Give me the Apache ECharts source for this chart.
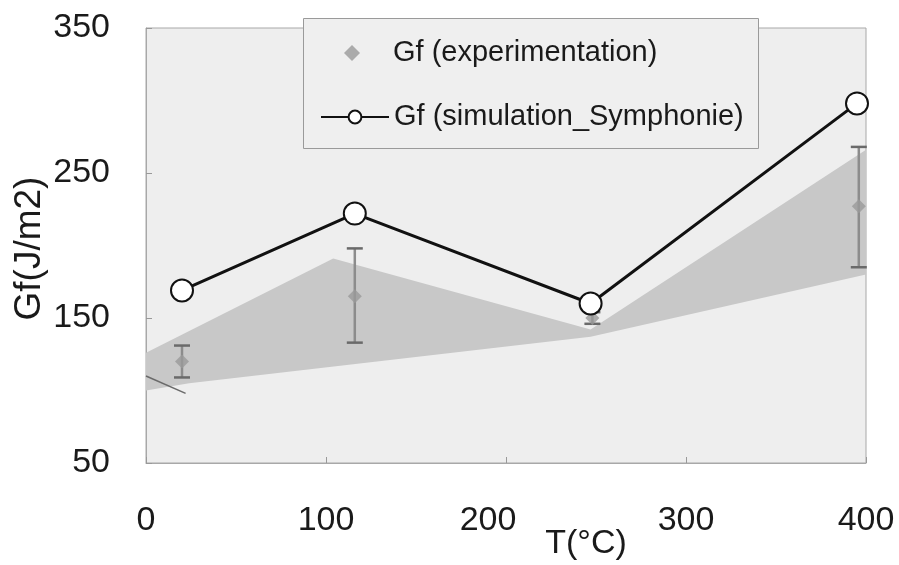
<!DOCTYPE html>
<html>
<head>
<meta charset="utf-8">
<script src="https://cdn.jsdelivr.net/npm/echarts@6/dist/echarts.min.js"></script>
<style>
html,body{margin:0;padding:0;background:#fff;}
#c{width:899px;height:565px;}
</style>
</head>
<body>
<div id="c"></div>
<script>
// ---- data ----
const xTicks = [0, 100, 200, 300, 400];
const yTicks = [50, 150, 250, 350];

const simT  = [20, 116, 247, 395];
const simGf = [169, 222, 160, 298];

const expT    = [20, 116, 248, 396];
const expGf   = [120, 165, 150, 227];
const expLow  = [109, 133, 146, 185];
const expHigh = [131, 198, 154, 268];

const bandUpperT  = [0, 104, 247, 400];
const bandUpperGf = [126, 191, 142, 266];
const bandLowerT  = [0, 24, 247, 400];
const bandLowerGf = [100, 105, 137, 180];

const strokeT  = [0, 22];
const strokeGf = [110, 98];

const seriesNames = ['Gf (experimentation)', 'Gf (simulation_Symphonie)'];

// ---- chart ----
const FONT = '"Liberation Sans", Arial, Helvetica, sans-serif';
const chart = echarts.init(document.getElementById('c'), null, {renderer: 'canvas'});

const bandPts = [];
for (let i = 0; i < bandUpperT.length; i++) bandPts.push([bandUpperT[i], bandUpperGf[i]]);
for (let i = bandLowerT.length - 1; i >= 0; i--) bandPts.push([bandLowerT[i], bandLowerGf[i]]);

const legendText = {fontFamily: FONT, fontSize: 29, color: '#1a1a1a', lineHeight: 30};

const option = {
  animation: false,
  backgroundColor: '#ffffff',
  grid: {
    left: 146, right: 33, top: 28, bottom: 102,
    containLabel: false, outerBoundsMode: 'none',
    show: true, backgroundColor: '#eeeeee', borderColor: '#a8a8a8', borderWidth: 1
  },
  legend: [{
    data: [seriesNames[0]],
    left: 344, top: 38, padding: 0,
    itemWidth: 16, itemHeight: 16,
    textStyle: Object.assign({}, legendText, {padding: [0, 0, 0, 28]}),
    z: 10
  }, {
    data: [seriesNames[1]],
    left: 320, top: 102, padding: 0,
    itemWidth: 68, itemHeight: 16,
    textStyle: legendText,
    z: 10
  }],
  graphic: [{
    type: 'rect', left: 303, top: 18, z: 5,
    shape: {width: 455, height: 130},
    style: {fill: '#efefef', stroke: '#9a9a9a', lineWidth: 1}
  }],
  xAxis: {
    type: 'value', min: 0, max: 400, interval: 100,
    name: 'T(°C)', nameLocation: 'middle', nameGap: 64, nameMoveOverlap: false,
    nameTextStyle: {fontFamily: FONT, fontSize: 34, color: '#1a1a1a', padding: [0, 0, 0, 160]},
    axisLine: {show: true, lineStyle: {color: '#a8a8a8', width: 1}},
    axisTick: {show: true, inside: true, length: 6, lineStyle: {color: '#999'}},
    splitLine: {show: false},
    axisLabel: {
      margin: 41, fontFamily: FONT, fontSize: 34, color: '#1a1a1a',
      formatter: function (v) { return v === 200 ? '{s|' + v + '}' : String(v); },
      rich: {s: {fontFamily: FONT, fontSize: 34, color: '#1a1a1a', padding: [0, 36, 0, 0]}}
    }
  },
  yAxis: {
    type: 'value', min: 50, max: 350,
    name: 'Gf(J/m2)', nameLocation: 'middle', nameRotate: 90, nameGap: 98, nameMoveOverlap: false,
    nameTextStyle: {fontFamily: FONT, fontSize: 37, color: '#1a1a1a', padding: [0, 6, 0, 0]},
    axisLine: {show: true, lineStyle: {color: '#a8a8a8', width: 1}},
    axisTick: {show: true, inside: true, length: 6, customValues: yTicks, lineStyle: {color: '#999'}},
    splitLine: {show: false},
    axisLabel: {margin: 36, fontFamily: FONT, fontSize: 34, color: '#1a1a1a', customValues: yTicks}
  },
  series: [
    {
      name: 'band', type: 'custom', silent: true, z: 1,
      data: [0],
      renderItem: function (params, api) {
        const pts = bandPts.map(p => api.coord(p));
        return {
          type: 'polygon',
          shape: {points: pts},
          style: {fill: '#c8c8c8'}
        };
      },
      clip: true
    },
    {
      name: 'stroke', type: 'line', silent: true, z: 2,
      data: strokeT.map((t, i) => [t, strokeGf[i]]),
      symbol: 'none',
      lineStyle: {color: '#6a6a6a', width: 1.5},
      clip: true
    },
    {
      name: 'errors', type: 'custom', silent: true, z: 3,
      data: expT.map((t, i) => [t, expLow[i], expHigh[i]]),
      renderItem: function (params, api) {
        const lo = api.coord([api.value(0), api.value(1)]);
        const hi = api.coord([api.value(0), api.value(2)]);
        const w = 8;
        return {
          type: 'group',
          children: [
            {type: 'line', shape: {x1: lo[0], y1: lo[1], x2: hi[0], y2: hi[1]},
             style: {stroke: '#8c8c8c', lineWidth: 2.5}},
            {type: 'line', shape: {x1: hi[0] - w, y1: hi[1], x2: hi[0] + w, y2: hi[1]},
             style: {stroke: '#6a6a6a', lineWidth: 2.5}},
            {type: 'line', shape: {x1: lo[0] - w, y1: lo[1], x2: lo[0] + w, y2: lo[1]},
             style: {stroke: '#6a6a6a', lineWidth: 2.5}}
          ]
        };
      }
    },
    {
      name: seriesNames[0], type: 'scatter', z: 4,
      symbol: 'diamond', symbolSize: 14,
      itemStyle: {color: '#9a9a9a'},
      data: expT.map((t, i) => [t, expGf[i]])
    },
    {
      name: seriesNames[1], type: 'line', z: 6,
      symbol: 'circle', symbolSize: 22, showAllSymbol: true,
      lineStyle: {color: '#111111', width: 3},
      itemStyle: {color: '#ffffff', borderColor: '#111111', borderWidth: 2},
      data: simT.map((t, i) => [t, simGf[i]])
    }
  ]
};
chart.setOption(option);
</script>
</body>
</html>
